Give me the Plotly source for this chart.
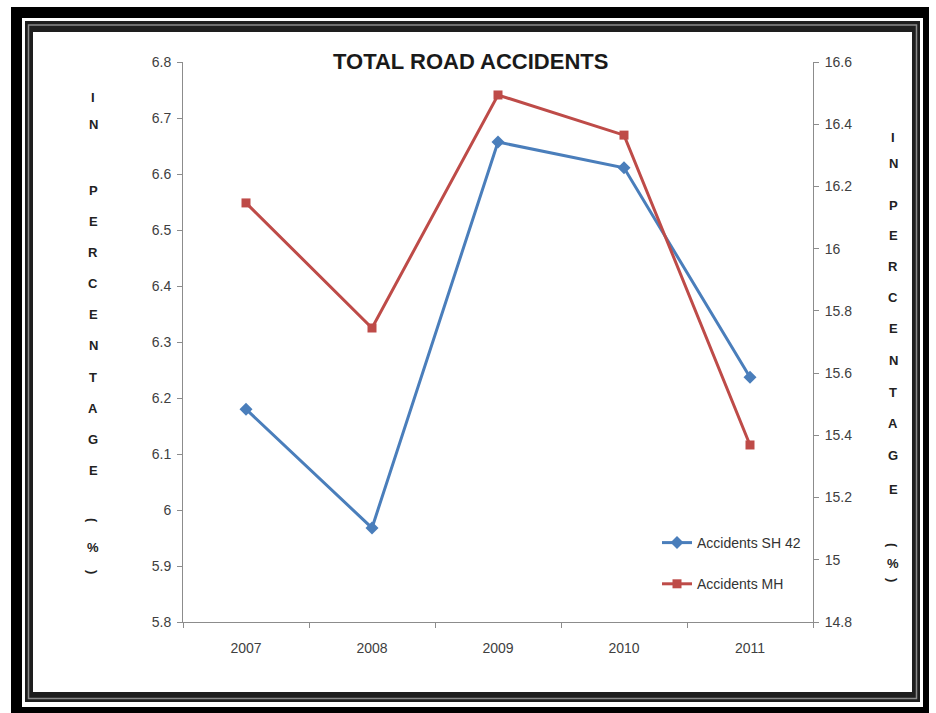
import plotly.graph_objects as go

# Chart data
years = ["2007", "2008", "2009", "2010", "2011"]
accidents_sh42 = [6.18, 5.968, 6.657, 6.611, 6.237]   # left axis
accidents_mh = [16.147, 15.745, 16.494, 16.365, 15.369]  # right axis

left_ticks = [5.8, 5.9, 6.0, 6.1, 6.2, 6.3, 6.4, 6.5, 6.6, 6.7, 6.8]
left_ticktext = ["5.8", "5.9", "6", "6.1", "6.2", "6.3", "6.4", "6.5", "6.6", "6.7", "6.8"]
right_ticks = [14.8, 15.0, 15.2, 15.4, 15.6, 15.8, 16.0, 16.2, 16.4, 16.6]
right_ticktext = ["14.8", "15", "15.2", "15.4", "15.6", "15.8", "16", "16.2", "16.4", "16.6"]

title_text = "TOTAL ROAD ACCIDENTS"
side_letters = ["I", "N", "P", "E", "R", "C", "E", "N", "T", "A", "G", "E", "(", "%", ")"]

W, H = 936, 713
L, R, T, B = 183, 813, 62, 622  # plot area in pixels
FONT = "Liberation Sans Narrow, Liberation Sans, Arial, sans-serif"


def px(x):
    return (x - L) / (R - L)


def py(y):
    return (B - y) / (B - T)


fig = go.Figure()
fig.add_trace(go.Scatter(
    x=years, y=accidents_sh42, name="Accidents SH 42", mode="lines+markers",
    line=dict(color="#4A7EBB", width=3),
    marker=dict(symbol="diamond", size=10, color="#4A7EBB"),
    legendgroup="a",
))
fig.add_trace(go.Scatter(
    x=years, y=accidents_mh, name="Accidents MH", mode="lines+markers",
    line=dict(color="#BE4B48", width=3),
    marker=dict(symbol="square", size=9, color="#BE4B48"),
    yaxis="y2", legendgroup="b",
))

# Double frame around the chart
shapes = []
def rect(x0, y0, x1, y1, fill):
    shapes.append(dict(
        type="rect", xref="paper", yref="paper", layer="below",
        x0=px(x0), x1=px(x1), y0=py(y1), y1=py(y0),
        fillcolor=fill, line=dict(width=0, color=fill),
    ))

rect(11, 7, 929, 713, "#000000")
rect(22, 18, 923, 707, "#ffffff")
rect(25, 21, 920, 702, "#1e1e1e")
shapes.append(dict(type="rect", xref="paper", yref="paper", layer="below",
                   x0=px(28.5), x1=px(916.5), y0=py(698.5), y1=py(25),
                   fillcolor="rgba(0,0,0,0)", line=dict(width=1.5, color="#8a8a8a")))
rect(33, 32, 912, 692, "#ffffff")

annotations = [dict(
    text=f"<b>{title_text}</b>", xref="paper", yref="paper",
    x=px(470), y=py(61), xanchor="center", yanchor="middle", showarrow=False,
    font=dict(family=FONT, size=22, color="#1a1a1a"),
)]

# Vertical "IN PERCENTAGE (%)" labels on both sides
left_y = [97, 124, 190, 221, 252, 283, 314, 345, 377, 408, 439, 470, 520, 547, 572]
right_y = [138, 163, 205, 235, 266, 297, 328, 360, 392, 424, 456, 489, 545, 563, 580]
for xs, ys in ((93, left_y), (893, right_y)):
    for ch, yy in zip(side_letters, ys):
        annotations.append(dict(
            text=f"<b>{ch}</b>", xref="paper", yref="paper",
            x=px(xs), y=py(yy), xanchor="center", yanchor="middle", showarrow=False,
            textangle=90 if ch in "()" else 0,
            font=dict(family=FONT, size=13, color="#222222"),
        ))

axis_common = dict(
    showline=True, linecolor="#8c8c8c", linewidth=1, ticks="outside",
    ticklen=5, tickcolor="#8c8c8c", showgrid=False, zeroline=False,
    tickfont=dict(family=FONT, size=14, color="#404040"),
)

fig.update_layout(
    width=W, height=H, margin=dict(l=L, r=W - R, t=T, b=H - B),
    paper_bgcolor="#ffffff", plot_bgcolor="rgba(0,0,0,0)",
    showlegend=True,
    legend=dict(
        x=px(657), y=py(527), xanchor="left", yanchor="top",
        bgcolor="rgba(0,0,0,0)", borderwidth=0, tracegroupgap=20,
        font=dict(family=FONT, size=14, color="#333333"), itemwidth=30,
    ),
    xaxis=dict(type="category", range=[-0.5, 4.5], tickson="boundaries",
               ticklabelstandoff=13, **axis_common),
    yaxis=dict(range=[5.8, 6.8], tickvals=left_ticks, ticktext=left_ticktext,
               ticklabelstandoff=3, **axis_common),
    yaxis2=dict(range=[14.8, 16.6], tickvals=right_ticks, ticktext=right_ticktext,
                overlaying="y", side="right", ticklabelstandoff=3, **axis_common),
    shapes=shapes, annotations=annotations,
)

fig.write_html("out.html")
